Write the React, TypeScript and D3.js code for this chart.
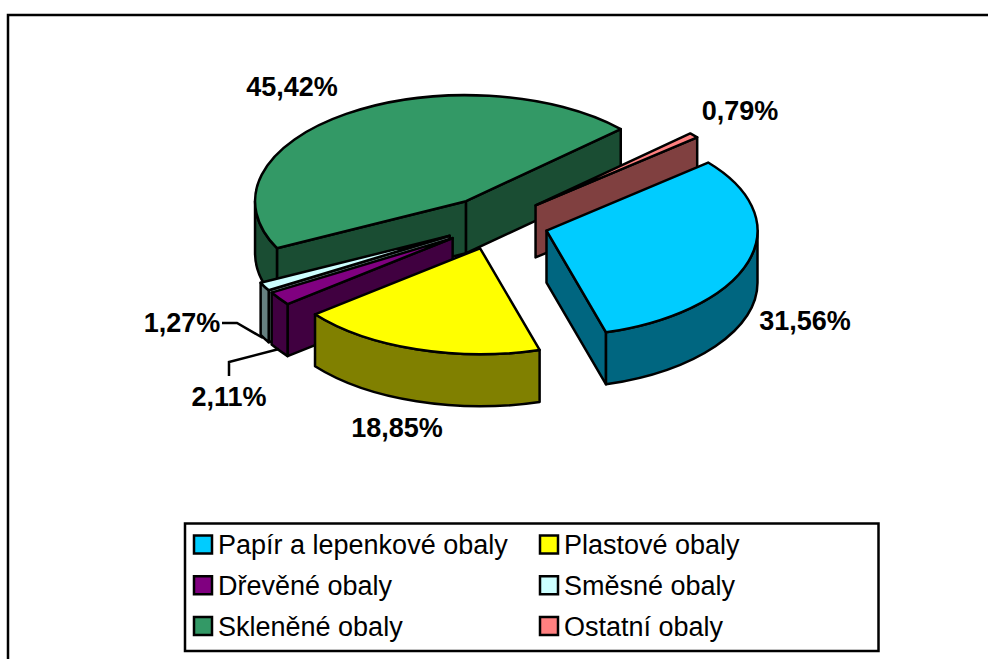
import * as d3 from 'd3';

// chart data
const categories = ['Papír a lepenkové obaly', 'Plastové obaly', 'Dřevěné obaly', 'Směsné obaly', 'Skleněné obaly', 'Ostatní obaly'];
const shares = [31.56, 18.85, 2.11, 1.27, 45.42, 0.79];
const shareLabels = ['31,56%', '18,85%', '2,11%', '1,27%', '45,42%', '0,79%'];
const topColors = ['#00CCFF', '#FFFF00', '#800080', '#CCFFFF', '#339966', '#FF8080'];
const wallColors = ['#006680', '#808000', '#400040', '#668080', '#1A4D33', '#804040'];

// index of slices, back to front
const paintOrder = [4, 5, 3, 2, 1, 0];

const width = 988;
const height = 659;
const cx = 496;
const cy = 223;
const rx = 211;
const ry = 106;
const depth = 52;
const explode = 0.25;
const firstAngle = (50 * Math.PI) / 180;

const labelSpots = [
  [805, 321],
  [397, 428],
  [229, 397],
  [182, 323],
  [292, 87],
  [740, 111],
];

const leaderLines = [
  [[222, 323], [237, 323], [263, 338]],
  [[229, 376], [229, 362], [279, 349]],
];

const pie = d3.pie<number>().sort(null).startAngle(firstAngle).endAngle(firstAngle + 2 * Math.PI);
const arcs = pie(shares);

// unit circle -> screen, angle clockwise from 12 o'clock
const xScale = d3.scaleLinear().domain([-1, 1]).range([-rx, rx]);
const yScale = d3.scaleLinear().domain([-1, 1]).range([-ry, ry]);

const line = d3.line();

function rim(ox: number, oy: number, t: number, dy = 0): [number, number] {
  return [ox + xScale(Math.sin(t)), oy + yScale(-Math.cos(t)) + dy];
}

function arcTo(p: [number, number], sweep: number) {
  return `A${rx},${ry} 0 0 ${sweep} ${p[0]},${p[1]}`;
}

function topFace(ox: number, oy: number, a0: number, a1: number) {
  const p0 = rim(ox, oy, a0);
  const p1 = rim(ox, oy, a1);
  const large = a1 - a0 > Math.PI ? 1 : 0;
  return `M${ox},${oy}L${p0[0]},${p0[1]}A${rx},${ry} 0 ${large} 1 ${p1[0]},${p1[1]}Z`;
}

function cutWall(ox: number, oy: number, t: number) {
  const p = rim(ox, oy, t);
  return line([[ox, oy], p, [p[0], p[1] + depth], [ox, oy + depth]]) + 'Z';
}

// outer wall, only the part turned to the viewer (90..270 degrees)
function outerWall(ox: number, oy: number, a0: number, a1: number) {
  const from = Math.max(a0, Math.PI / 2);
  const to = Math.min(a1, (3 * Math.PI) / 2);
  if (to <= from) return null;
  const p0 = rim(ox, oy, from);
  const p1 = rim(ox, oy, to);
  const p1d = rim(ox, oy, to, depth);
  const p0d = rim(ox, oy, from, depth);
  return `M${p0[0]},${p0[1]}${arcTo(p1, 1)}L${p1d[0]},${p1d[1]}${arcTo(p0d, 0)}Z`;
}

const legendX = d3.scaleOrdinal<number, number>().domain([0, 1]).range([194, 540]);
const legendY = d3.scalePoint<number>().domain([0, 1, 2]).range([544.5, 626]);

export default function App() {
  return (
    <svg
      width={width}
      height={height}
      viewBox={`0 0 ${width} ${height}`}
      style={{ position: 'fixed', left: 0, top: 0, background: '#fff' }}
      fontFamily="'Liberation Sans', Arial, sans-serif"
    >
      <rect x={8} y={15} width={1100} height={800} fill="#fff" stroke="#000" strokeWidth={2.5} />

      {paintOrder.map((i) => {
        const d = arcs[i];
        const mid = (d.startAngle + d.endAngle) / 2;
        const ox = cx + xScale(Math.sin(mid)) * explode;
        const oy = cy + yScale(-Math.cos(mid)) * explode;
        const outer = outerWall(ox, oy, d.startAngle, d.endAngle);
        return (
          <g key={categories[i]} stroke="#000" strokeWidth={2.5} strokeLinejoin="round">
            {Math.sin(d.startAngle) < 0 && <path d={cutWall(ox, oy, d.startAngle)} fill={wallColors[i]} />}
            {Math.sin(d.endAngle) > 0 && <path d={cutWall(ox, oy, d.endAngle)} fill={wallColors[i]} />}
            {outer && <path d={outer} fill={wallColors[i]} />}
            <path d={topFace(ox, oy, d.startAngle, d.endAngle)} fill={topColors[i]} />
          </g>
        );
      })}

      {leaderLines.map((pts, i) => (
        <path key={i} d={line(pts as [number, number][]) as string} fill="none" stroke="#000" strokeWidth={2.5} />
      ))}

      {shareLabels.map((label, i) => (
        <text
          key={label}
          x={labelSpots[i][0]}
          y={labelSpots[i][1]}
          textAnchor="middle"
          dominantBaseline="central"
          fontSize={27}
          fontWeight="bold"
          fill="#000"
        >
          {label}
        </text>
      ))}

      <rect x={185} y={523.5} width={693.5} height={127.5} fill="#fff" stroke="#000" strokeWidth={2.5} />
      {categories.map((name, i) => {
        const x = legendX(i % 2) as number;
        const y = legendY(Math.floor(i / 2)) as number;
        return (
          <g key={name}>
            <rect x={x} y={y - 9} width={18} height={18} fill={topColors[i]} stroke="#000" strokeWidth={2.5} />
            <text x={x + 24} y={y + 9.5} fontSize={27} fill="#000">
              {name}
            </text>
          </g>
        );
      })}
    </svg>
  );
}
